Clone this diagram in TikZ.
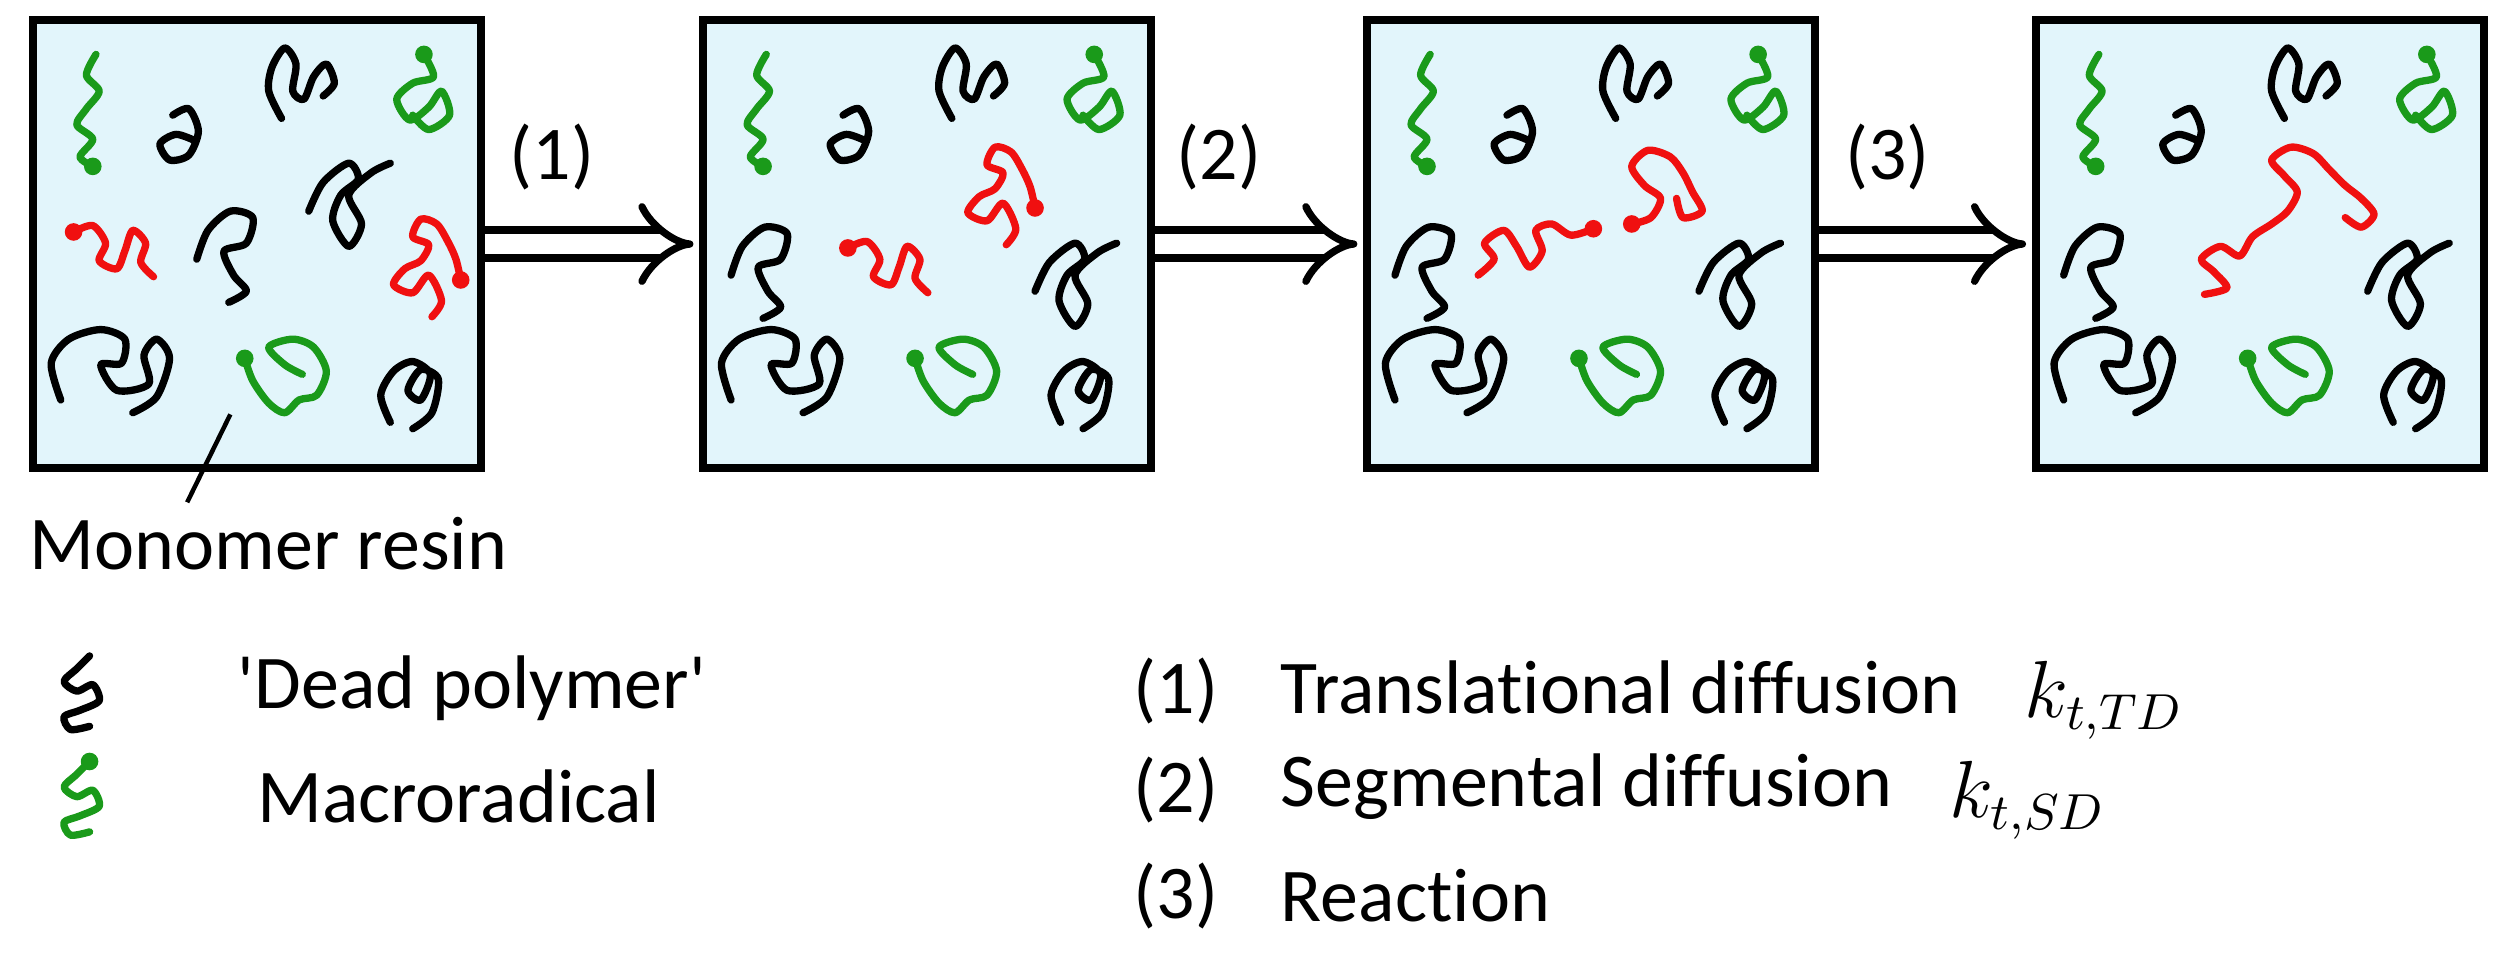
\documentclass[tikz,border=0pt]{standalone}
\usepackage{fontspec}
\setmainfont{Carlito}[Ligatures={NoCommon,NoRequired,NoContextual}]
\usetikzlibrary{arrows.meta}
\definecolor{resin}{HTML}{E2F5FB}
\definecolor{pgreen}{HTML}{1A9A1A}
\definecolor{pred}{HTML}{F01010}

% chains in box-local pixel coordinates
\def\blkA{(90,60) (100,56) (106,70) (100,85) (88,88) (82,78) (92,72) (104,76)}
\def\blkB{(158,62) (150,45) (152,30) (160,18) (167,28) (165,45) (172,50) (178,36) (186,28) (191,40) (184,48)}
\def\blkC{(105,150) (112,132) (126,120) (140,124) (136,140) (122,145) (128,160) (136,170) (125,177)}
\def\blkD{(175,120) (184,102) (200,90) (206,100) (195,110) (190,126) (200,142) (208,128) (200,110) (214,96) (226,90)}
\def\blkE{(20,238) (14,215) (25,200) (45,194) (60,200) (58,215) (45,216) (55,232) (75,228) (72,210) (80,200) (88,212) (80,236) (65,246)}
\def\blkF{(226,252) (220,235) (228,220) (240,214) (251,222) (245,238) (237,232) (245,219) (256,225) (252,246) (240,256)}
\def\grnA{(42,22) (36,35) (44,45) (36,56) (30,66) (40,75) (32,86) (40,92)}
\def\grnB{(247,22) (253,36) (240,40) (230,50) (238,63) (250,55) (258,45) (263,60) (250,69) (240,60)}
\def\grnC{(135,212) (140,226) (150,240) (160,246) (169,238) (180,235) (186,220) (178,205) (165,200) (150,205) (160,216) (171,222)}
\def\redA{(28,133) (40,129) (48,140) (44,151) (55,156) (60,145) (65,132) (73,140) (70,152) (78,161)}
\def\redB{(270,163) (267,150) (262,139) (255,128) (245,125) (240,136) (250,141) (245,151) (235,156) (228,166) (240,171) (250,160) (258,176) (252,186)}
\def\coilIcon{(38,0) (30,8) (22,16) (30,22) (40,18) (44,28) (32,34) (22,38) (26,46) (38,44)}

\tikzset{
  box/.style={draw, line width=1.4pt, fill=resin, minimum width=2.8cm, minimum height=2.8cm, inner sep=0pt, anchor=north west},
  chain/.style={line width=1.3pt, line cap=round, line join=round},
  dead/.style={chain, black},
  radical/.style={chain, pgreen},
  active/.style={chain, pred},
  stepArrow/.style={double, line width=1.3pt, double distance=0.13cm, -{Implies[length=0.18cm, width=0.46cm]}, shorten >=1pt},
  label/.style={font=\fontsize{13.5}{16}\selectfont, inner sep=0pt},
}
\newcommand\headDot[2]{\fill[#1] #2 circle (0.055cm);}
\newcommand\commonChains{%
  \draw[dead] plot[smooth] coordinates {\blkA};
  \draw[dead] plot[smooth] coordinates {\blkB};
  \draw[dead] plot[smooth] coordinates {\blkE};
  \draw[dead] plot[smooth] coordinates {\blkF};
  \draw[radical] plot[smooth] coordinates {\grnA}; \headDot{pgreen}{(40,92)}
  \draw[radical] plot[smooth] coordinates {\grnB}; \headDot{pgreen}{(247,22)}
  \draw[radical] plot[smooth] coordinates {\grnC}; \headDot{pgreen}{(135,212)}
}

\begin{document}
\begin{tikzpicture}[x=0.01cm, y=-0.01cm]
  \useasboundingbox (0,0) rectangle (1564,600);

  % boxes
  \node[box] (b1) at (18,10) {};
  \node[box] (b2) at (437,10) {};
  \node[box] (b3) at (852,10) {};
  \node[box] (b4) at (1270,10) {};

  % box 1: initial state
  \begin{scope}[shift={(18,12)}]
    \commonChains
    \draw[dead] plot[smooth] coordinates {\blkC};
    \draw[dead] plot[smooth] coordinates {\blkD};
    \draw[active] plot[smooth] coordinates {\redA}; \headDot{pred}{(28,133)}
    \draw[active] plot[smooth] coordinates {\redB}; \headDot{pred}{(270,163)}
  \end{scope}

  % box 2: translational diffusion
  \begin{scope}[shift={(437,12)}]
    \commonChains
    \begin{scope}[shift={(-85,10)}] \draw[dead] plot[smooth] coordinates {\blkC}; \end{scope}
    \begin{scope}[shift={(35,50)}] \draw[dead] plot[smooth] coordinates {\blkD}; \end{scope}
    \begin{scope}[shift={(65,10)}] \draw[active] plot[smooth] coordinates {\redA}; \headDot{pred}{(28,133)} \end{scope}
    \begin{scope}[shift={(-60,-45)}] \draw[active] plot[smooth] coordinates {\redB}; \headDot{pred}{(270,163)} \end{scope}
  \end{scope}

  % box 3: segmental diffusion
  \begin{scope}[shift={(852,12)}]
    \commonChains
    \begin{scope}[shift={(-85,10)}] \draw[dead] plot[smooth] coordinates {\blkC}; \end{scope}
    \begin{scope}[shift={(35,50)}] \draw[dead] plot[smooth] coordinates {\blkD}; \end{scope}
    \draw[active] plot[smooth] coordinates {(72,160) (82,150) (76,140) (88,132) (96,142) (104,155) (112,145) (108,132) (118,128) (130,135) (144,131)}; \headDot{pred}{(144,131)}
    \draw[active] plot[smooth] coordinates {(168,128) (180,124) (186,112) (176,104) (168,92) (178,82) (192,86) (200,96) (206,108) (212,120) (200,124) (196,112)}; \headDot{pred}{(168,128)}
  \end{scope}

  % box 4: reaction
  \begin{scope}[shift={(1270,12)}]
    \commonChains
    \begin{scope}[shift={(-85,10)}] \draw[dead] plot[smooth] coordinates {\blkC}; \end{scope}
    \begin{scope}[shift={(35,50)}] \draw[dead] plot[smooth] coordinates {\blkD}; \end{scope}
    \draw[active] plot[smooth] coordinates {(108,172) (122,168) (114,158) (106,150) (118,142) (130,148) (138,136) (150,128) (160,120) (166,108) (158,98) (150,88) (162,80) (176,84) (186,94) (196,104) (206,112) (214,122) (206,130) (196,124)};
  \end{scope}

  % transitions
  \draw[stepArrow] (b1.east) -- (b2.west);
  \draw[stepArrow] (b2.east) -- (b3.west);
  \draw[stepArrow] (b3.east) -- (b4.west);
  \node[label] (s1) at (345,98) {(1)};
  \node[label] (s2) at (762,98) {(2)};
  \node[label] (s3) at (1180,98) {(3)};

  % monomer resin callout
  \coordinate (resinPt) at (144,259);
  \node[label, anchor=west] (resin) at (18,340) {Monomer resin};
  \draw[line width=0.8pt] (resinPt) -- (117,314);

  % legend: species
  \begin{scope}[shift={(18,410)}]
    \draw[dead] plot[smooth] coordinates {\coilIcon};
  \end{scope}
  \begin{scope}[shift={(18,476)}]
    \draw[radical] plot[smooth] coordinates {\coilIcon}; \headDot{pgreen}{(38,0)}
  \end{scope}
  \node[label, anchor=west] (deadTxt) at (148,430) {\textquotesingle Dead polymer\textquotesingle};
  \node[label, anchor=west] (radTxt) at (160,498) {Macroradical};

  % legend: steps
  \node[label, anchor=west] (l1) at (708,432) {(1)};
  \node[label, anchor=west] (l2) at (708,494) {(2)};
  \node[label, anchor=west] (l3) at (708,560) {(3)};
  \node[label, anchor=west] (t1) at (800,430) {Translational diffusion};
  \node[label, anchor=west] (t2) at (800,492) {Segmental diffusion};
  \node[label, anchor=west] (t3) at (800,560) {Reaction};
  \node[label, anchor=west] (k1) at (1265,438) {$k_{t,TD}$};
  \node[label, anchor=west] (k2) at (1218,500) {$k_{t,SD}$};
\end{tikzpicture}
\end{document}
